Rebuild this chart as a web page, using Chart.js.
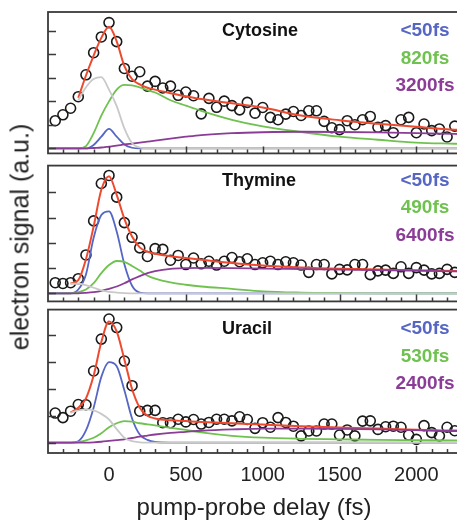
<!DOCTYPE html>
<html>
<head>
<meta charset="utf-8">
<script src="https://cdn.jsdelivr.net/npm/chart.js@4.4.1/dist/chart.umd.min.js"></script>
<style>
  body { margin: 0; width: 457px; height: 523px; overflow: hidden; background: #fff; position: relative; }
  canvas { position: absolute; left: 0; }
  #rotuloY {
    position: absolute; left: 20px; top: 237px;
    transform: translate(-50%, -50%) rotate(-90deg);
    font-family: "Liberation Sans", Arial, sans-serif; font-size: 25px; color: #222; white-space: nowrap;
  }
</style>
</head>
<body>
<canvas id="GraficoCitosina" width="470" height="160" style="top:0px"></canvas>
<canvas id="GraficoTimina" width="470" height="149" style="top:159px"></canvas>
<canvas id="GraficoUracila" width="470" height="220" style="top:303px"></canvas>
<div id="rotuloY">electron signal (a.u.)</div>
<script>
// Atraso pump-probe dos pontos medidos (fs)
const atrasos = [-350, -300, -250, -200, -150, -100, -50, 0, 50, 100, 150, 200, 250, 300, 350, 400, 450, 500,
    550, 600, 650, 700, 750, 800, 850, 900, 950, 1000, 1050, 1100, 1150, 1200, 1250, 1300, 1350, 1400, 1450,
    1500, 1550, 1600, 1650, 1700, 1750, 1800, 1850, 1900, 1950, 2000, 2050, 2100, 2150, 2200, 2250];

// Sinal medido (u.a.)
const sinalCitosina = [1.18, 1.43, 1.71, 2.20, 3.13, 4.07, 4.74, 5.35, 4.54, 3.40, 3.07, 3.26, 2.65, 2.85, 2.57,
    2.65, 2.26, 2.40, 2.24, 1.47, 2.13, 1.75, 2.01, 1.82, 1.64, 1.96, 1.50, 1.74, 1.32, 1.22, 1.46, 1.57, 1.40,
    1.60, 1.60, 1.15, 0.88, 0.80, 1.18, 1.01, 1.22, 1.36, 0.90, 0.97, 0.67, 1.22, 1.32, 0.67, 1.04, 0.76, 0.83,
    0.49, 0.95];
const sinalTimina = [0.42, 0.39, 0.42, 0.58, 1.52, 2.87, 4.35, 4.67, 3.81, 2.80, 2.22, 1.80, 1.46, 1.77, 1.74,
    1.31, 1.50, 1.14, 1.40, 1.17, 1.27, 1.12, 1.27, 1.42, 1.25, 1.37, 1.14, 1.21, 1.27, 1.14, 1.25, 1.21, 1.12,
    0.83, 1.14, 1.14, 0.77, 0.95, 0.93, 1.14, 1.14, 0.74, 0.89, 0.92, 0.79, 1.05, 0.79, 1.02, 0.92, 0.77, 0.79,
    0.95, 0.83];
const sinalUracila = [1.10, 0.93, 1.17, 1.42, 1.41, 2.67, 3.86, 4.61, 4.29, 3.04, 2.12, 1.17, 1.20, 1.20, 0.74,
    0.74, 0.87, 0.77, 0.86, 0.69, 0.75, 0.87, 0.87, 0.81, 0.96, 0.86, 0.53, 0.74, 0.57, 0.93, 0.75, 0.61, 0.25,
    0.43, 0.43, 0.69, 0.69, 0.28, 0.47, 0.25, 0.80, 0.81, 0.49, 0.59, 0.61, 0.57, 0.28, 0.12, 0.63, 0.37, 0.25,
    0.57, 0.44];

// Atrasos onde as curvas de ajuste foram lidas (fs)
const atrasosAjuste = [-400, -350, -300, -250, -200, -150, -100, -50, 0, 50, 100, 150, 200, 250, 300, 400, 500,
    600, 800, 1000, 1250, 1500, 1750, 2000, 2250, 2300];

// Citosina: ajuste total e componentes
const totalCitosina = [null, null, null, null, 2.15, 3.1, 3.95, 4.7, 5.17, 4.55, 3.5, 2.95, 2.72, 2.58, 2.5, 2.35,
    2.22, 2.1, 1.92, 1.74, 1.4, 1.2, 1.05, 0.92, 0.8, 0.79];
const cinzaCitosina = [null, null, null, null, 2.05, 2.6, 2.95, 3.03, 2.5, 1.8, 0.85, 0.22, 0.04, 0, 0, 0, 0, 0, 0,
    0, 0, 0, 0, 0, 0, 0];
const rapidoCitosina = [0, 0, 0, 0, 0, 0, 0.15, 0.5, 0.83, 0.5, 0.17, 0.03, 0, 0, 0, 0, 0, 0, 0, 0, 0, 0, 0, 0, 0, 0];
const medioCitosina = [0, 0, 0, 0, 0, 0.1, 0.65, 1.4, 2.0, 2.5, 2.7, 2.68, 2.6, 2.48, 2.38, 2.05, 1.82, 1.6, 1.22,
    0.94, 0.7, 0.5, 0.37, 0.25, 0.2, 0.19];
const lentoCitosina = [0, 0, 0, 0, 0, 0, 0.02, 0.04, 0.08, 0.12, 0.17, 0.21, 0.25, 0.29, 0.33, 0.42, 0.5, 0.57, 0.65,
    0.69, 0.71, 0.7, 0.68, 0.65, 0.62, 0.61];

// Timina
const totalTimina = [null, null, null, 0.39, 0.52, 1.35, 2.65, 4.1, 4.64, 3.9, 2.95, 2.25, 1.82, 1.65, 1.57, 1.47,
    1.4, 1.33, 1.2, 1.1, 1.02, 0.97, 0.94, 0.91, 0.88, 0.87];
const cinzaTimina = [null, null, null, 0.38, 0.38, 0.32, 0.22, 0.12, 0.06, 0.03, 0.01, 0, 0, 0, 0, 0, 0, 0, 0, 0, 0,
    0, 0, 0, 0, 0];
const rapidoTimina = [0, 0, 0, 0, 0.15, 0.75, 2.2, 3.1, 3.25, 2.45, 1.15, 0.3, 0.03, 0, 0, 0, 0, 0, 0, 0, 0, 0, 0,
    0, 0, 0];
const medioTimina = [0, 0, 0, 0, 0.05, 0.15, 0.4, 0.8, 1.12, 1.28, 1.25, 1.08, 0.9, 0.7, 0.58, 0.43, 0.34, 0.27,
    0.18, 0.08, 0.03, 0.01, 0, 0, 0, 0];
const lentoTimina = [0, 0, 0, 0, 0, 0.02, 0.05, 0.1, 0.18, 0.27, 0.4, 0.55, 0.68, 0.8, 0.88, 0.97, 1.0, 1.01, 1.0,
    0.98, 0.96, 0.94, 0.92, 0.9, 0.87, 0.87];

// Uracila
const totalUracila = [null, null, null, 1.12, 1.3, 1.65, 2.5, 3.75, 4.52, 4.15, 3.1, 2.0, 1.3, 1.0, 0.9, 0.83, 0.8,
    0.77, 0.72, 0.67, 0.61, 0.56, 0.52, 0.48, 0.45, 0.45];
const cinzaUracila = [null, null, null, 1.12, 1.2, 1.24, 1.2, 1.07, 0.86, 0.5, 0.18, 0.05, 0.01, 0, 0, 0, 0, 0, 0, 0,
    0, 0, 0, 0, 0, 0];
const rapidoUracila = [0, 0, 0, 0, 0.05, 0.45, 1.3, 2.45, 3.0, 2.85, 1.95, 0.9, 0.3, 0.1, 0.02, 0, 0, 0, 0, 0, 0, 0,
    0, 0, 0, 0];
const medioUracila = [0, 0, 0, 0, 0.02, 0.08, 0.18, 0.35, 0.57, 0.72, 0.8, 0.78, 0.72, 0.68, 0.64, 0.55, 0.47, 0.38,
    0.25, 0.18, 0.14, 0.12, 0.1, 0.09, 0.08, 0.08];
const lentoUracila = [0, 0, 0, 0, 0, 0, 0.01, 0.03, 0.06, 0.09, 0.12, 0.17, 0.22, 0.26, 0.3, 0.36, 0.4, 0.44, 0.49,
    0.52, 0.52, 0.51, 0.49, 0.46, 0.43, 0.43];

// Ticks e rótulos
const ticksMaiores = [0, 500, 1000, 1500, 2000];
const ticksMenores = [-300, -200, -100, 0, 100, 200, 300, 400, 500, 600, 700, 800, 900, 1000, 1100, 1200, 1300,
    1400, 1500, 1600, 1700, 1800, 1900, 2000, 2100, 2200];
const tempos = {
    citosina: ['<50fs', '820fs', '3200fs'],
    timina: ['<50fs', '490fs', '6400fs'],
    uracila: ['<50fs', '530fs', '2400fs'],
};

const CORES = { total: '#ee4a2f', cinza: '#c9c9c9', rapido: '#5566c4', medio: '#6fc24f', lento: '#8b3c97' };
const FONTE = '"Liberation Sans", Arial, sans-serif';
Chart.defaults.font.family = FONTE;

// Plugin que desenha a moldura, os ticks para dentro e os textos de cada painel
const pluginMoldura = {
    id: 'moldura',
    afterDatasetsDraw(chart, args, opts) {
        const { ctx, chartArea: a, scales: { x, y } } = chart;
        ctx.save();
        ctx.strokeStyle = '#3a3a3a';
        ctx.lineWidth = 1.5;
        ctx.beginPath();
        ticksMenores.forEach(v => {
            const px = Math.round(x.getPixelForValue(v)) + 0.5;
            const len = v % 500 === 0 ? 7 : 4;
            ctx.moveTo(px, a.bottom);
            ctx.lineTo(px, a.bottom - len);
        });
        opts.yTicks.forEach(v => {
            const py = Math.round(y.getPixelForValue(v)) + 0.5;
            ctx.moveTo(a.left, py);
            ctx.lineTo(a.left + 8, py);
        });
        ctx.stroke();
        ctx.lineWidth = 1.8;
        ctx.strokeRect(a.left, a.top, a.right - a.left, a.bottom - a.top);

        ctx.textBaseline = 'middle';
        ctx.font = 'bold 18px ' + FONTE;
        ctx.fillStyle = '#111';
        ctx.textAlign = 'left';
        ctx.fillText(opts.nome, 222, a.top + opts.topo);
        ctx.font = 'bold 19px ' + FONTE;
        ctx.textAlign = 'center';
        const cores = [CORES.rapido, CORES.medio, CORES.lento];
        opts.tempos.forEach((t, i) => {
            ctx.fillStyle = cores[i];
            ctx.fillText(t, 425, a.top + opts.topo + i * 27.5);
        });
        ctx.restore();
    }
};

function pontos(xs, ys) {
    return xs.map((x, i) => ({ x: x, y: ys[i] }));
}

function curva(ys, cor, largura) {
    return {
        data: pontos(atrasosAjuste, ys),
        borderColor: cor,
        borderWidth: largura,
        pointRadius: 0,
        fill: false,
        cubicInterpolationMode: 'monotone',
        spanGaps: false,
    };
}

// Função genérica para criar um painel
function criarGrafico(ctxId, p) {
    const ctx = document.getElementById(ctxId).getContext('2d');
    const eixoX = {
        type: 'linear', min: -397, max: 2284,
        display: p.ultimo,
        border: { display: false },
        grid: { display: false, drawTicks: false },
        afterBuildTicks: s => { s.ticks = ticksMaiores.map(v => ({ value: v })); },
        ticks: {
            color: '#222', font: { size: 20 }, padding: 10, autoSkip: false, maxRotation: 0,
            callback: v => String(v),
        },
        title: { display: true, text: 'pump-probe delay (fs)', color: '#222', font: { size: 24 }, padding: { top: 0, bottom: 0 } },
    };
    if (p.ultimo) eixoX.afterFit = s => { s.height = 70; };

    return new Chart(ctx, {
        type: 'line',
        data: {
            datasets: [
                curva(p.cinza, CORES.cinza, 1.8),
                curva(p.lento, CORES.lento, 1.8),
                curva(p.medio, CORES.medio, 1.8),
                curva(p.rapido, CORES.rapido, 1.8),
                curva(p.total, CORES.total, 2),
                {
                    data: pontos(atrasos, p.sinal),
                    showLine: false,
                    pointRadius: 5,
                    pointBorderWidth: 1.6,
                    pointBorderColor: '#1a1a1a',
                    pointBackgroundColor: 'rgba(0,0,0,0)',
                },
            ],
        },
        options: {
            responsive: false,
            animation: false,
            devicePixelRatio: 1,
            layout: { padding: p.padding },
            plugins: {
                legend: { display: false },
                tooltip: { enabled: false },
                moldura: { nome: p.nome, tempos: p.tempos, yTicks: p.yTicks, topo: p.topo },
            },
            scales: {
                x: eixoX,
                y: { type: 'linear', min: p.yMin, max: p.yMax, display: false },
            },
        },
        plugins: [pluginMoldura],
    });
}

criarGrafico('GraficoCitosina', {
    nome: 'Cytosine', tempos: tempos.citosina, topo: 19,
    sinal: sinalCitosina, total: totalCitosina, cinza: cinzaCitosina,
    rapido: rapidoCitosina, medio: medioCitosina, lento: lentoCitosina,
    yMin: -0.21, yMax: 5.8, yTicks: [0, 1, 2, 3, 4, 5],
    padding: { left: 48, top: 12, right: 10, bottom: 4 }, ultimo: false,
});
criarGrafico('GraficoTimina', {
    nome: 'Thymine', tempos: tempos.timina, topo: 15,
    sinal: sinalTimina, total: totalTimina, cinza: cinzaTimina,
    rapido: rapidoTimina, medio: medioTimina, lento: lentoTimina,
    yMin: -0.32, yMax: 5.06, yTicks: [0, 1, 2, 3, 4],
    padding: { left: 48, top: 4, right: 10, bottom: 3 }, ultimo: false,
});
criarGrafico('GraficoUracila', {
    nome: 'Uracil', tempos: tempos.uracila, topo: 19.5,
    sinal: sinalUracila, total: totalUracila, cinza: cinzaUracila,
    rapido: rapidoUracila, medio: medioUracila, lento: lentoUracila,
    yMin: -0.39, yMax: 4.96, yTicks: [0, 1, 2, 3, 4],
    padding: { left: 48, top: 5, right: 10, bottom: 0 }, ultimo: true,
});
</script>
</body>
</html>
